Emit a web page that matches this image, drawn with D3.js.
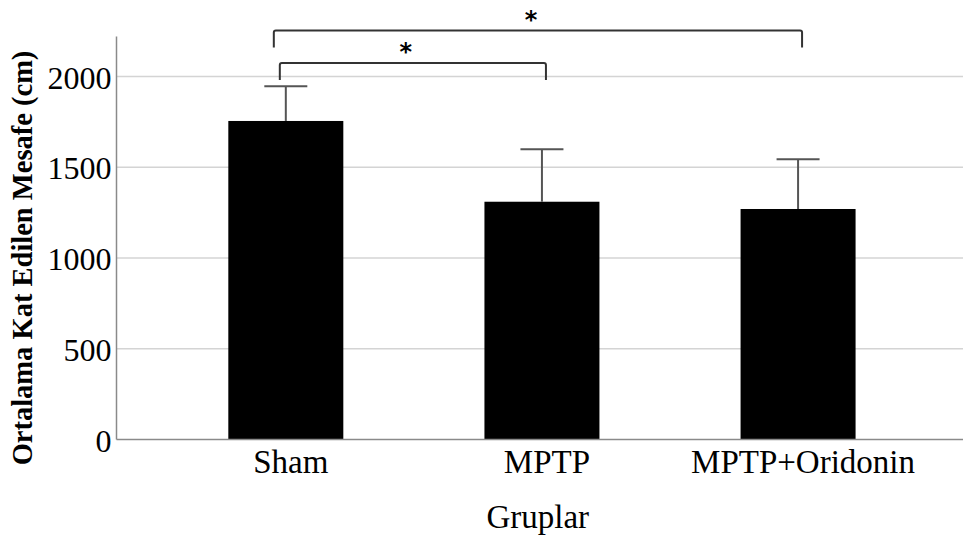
<!DOCTYPE html>
<html><head><meta charset="utf-8">
<script src="https://cdn.jsdelivr.net/npm/d3@7"></script>
<style>body{margin:0;background:#fff}svg{display:block}</style>
</head><body>
<svg id="c" width="963" height="541"></svg>
<script>
const categories = ["Sham", "MPTP", "MPTP+Oridonin"];
const means = [1755, 1310, 1270];
const errors = [191, 289, 274];
const yTicks = [0, 500, 1000, 1500, 2000];
const comparisons = [
  {from: "Sham", to: "MPTP", label: "*", level: 0},
  {from: "Sham", to: "MPTP+Oridonin", label: "*", level: 1}
];
const yTitle = "Ortalama Kat Edilen Mesafe (cm)";
const xTitle = "Gruplar";

const svg = d3.select("#c");
const left = 116.5, right = 963, base = 439.5;
const y = d3.scaleLinear().domain([0, 2000]).range([base, 76.5]);
const x = d3.scaleBand().domain(categories).range([left, right]).paddingInner(0.551).paddingOuter(0.428).align(0.51);
const font = "'Liberation Serif','Times New Roman',serif";

// gridlines
svg.append("g").selectAll("line").data(yTicks.filter(d => d > 0)).join("line")
  .attr("x1", left).attr("x2", right).attr("y1", d => y(d)).attr("y2", d => y(d))
  .attr("stroke", "#d4d4d4").attr("stroke-width", 1.5);

// y axis
const yAxis = svg.append("g").attr("transform", `translate(${left},0)`)
  .call(d3.axisLeft(y).tickValues(yTicks).tickFormat(d3.format("d")).tickSize(0).tickPadding(5));
yAxis.select(".domain").remove();
yAxis.attr("font-family", null).attr("font-size", null);
yAxis.selectAll("text").style("font-family", font).style("font-size", "32px").attr("fill", "#000").attr("dy", "0.36em");
svg.append("line").attr("x1", left).attr("x2", left).attr("y1", y(2220)).attr("y2", base)
  .attr("stroke", "#8a8a8a").attr("stroke-width", 1.5);

// bars
svg.append("g").selectAll("rect").data(categories).join("rect")
  .attr("x", d => x(d)).attr("width", x.bandwidth())
  .attr("y", (d, i) => y(means[i])).attr("height", (d, i) => base - y(means[i]))
  .attr("fill", "#000");

// error bars
const eb = svg.append("g").attr("stroke", "#555").attr("stroke-width", 2);
categories.forEach((c, i) => {
  const cx = x(c) + x.bandwidth() / 2;
  eb.append("line").attr("x1", cx).attr("x2", cx).attr("y1", y(means[i])).attr("y2", y(means[i] + errors[i]));
  eb.append("line").attr("x1", cx - 21.5).attr("x2", cx + 21.5).attr("y1", y(means[i] + errors[i])).attr("y2", y(means[i] + errors[i]));
});

// x axis baseline
svg.append("line").attr("x1", left).attr("x2", right).attr("y1", base).attr("y2", base)
  .attr("stroke", "#8a8a8a").attr("stroke-width", 1.5);

// x labels
const xAxis = svg.append("g").attr("transform", `translate(0,${base})`)
  .call(d3.axisBottom(x).tickSize(0).tickPadding(10));
xAxis.select(".domain").remove();
xAxis.attr("font-family", null).attr("font-size", null);
xAxis.selectAll("text").style("font-family", font).style("font-size", "33px").attr("fill", "#000").attr("dx", "0.15em");

// titles
svg.append("text").attr("x", (left + right) / 2 - 2).attr("y", 528)
  .attr("text-anchor", "middle").style("font-family", font).style("font-size", "33px").text(xTitle);
svg.append("text").attr("transform", "translate(32,258) rotate(-90)")
  .attr("text-anchor", "middle").style("font-family", font).attr("font-weight", "bold")
  .style("font-size", "28.5px").text(yTitle);

// significance brackets
const br = svg.append("g");
comparisons.forEach(c => {
  const x1 = x(c.from) + x.bandwidth() / 2 - 12 + (c.level === 0 ? 6 : 0);
  const x2 = x(c.to) + x.bandwidth() / 2 + 4;
  const top = c.level === 0 ? 63 : 30.5;
  const leg = 17;
  br.append("path").attr("d", `M${x1},${top + leg}V${top + 2}Q${x1},${top} ${x1 + 2},${top}H${x2 - 2}Q${x2},${top} ${x2},${top + 2}V${top + leg}`)
    .attr("fill", "none").attr("stroke", "#333").attr("stroke-width", 2);
  br.append("text").attr("x", (x1 + x2) / 2 - 7).attr("y", top - 3)
    .attr("text-anchor", "middle").style("font-family", "'DejaVu Sans',sans-serif").attr("font-weight", "bold")
    .style("font-size", "24px").text(c.label);
});
</script>
</body></html>
